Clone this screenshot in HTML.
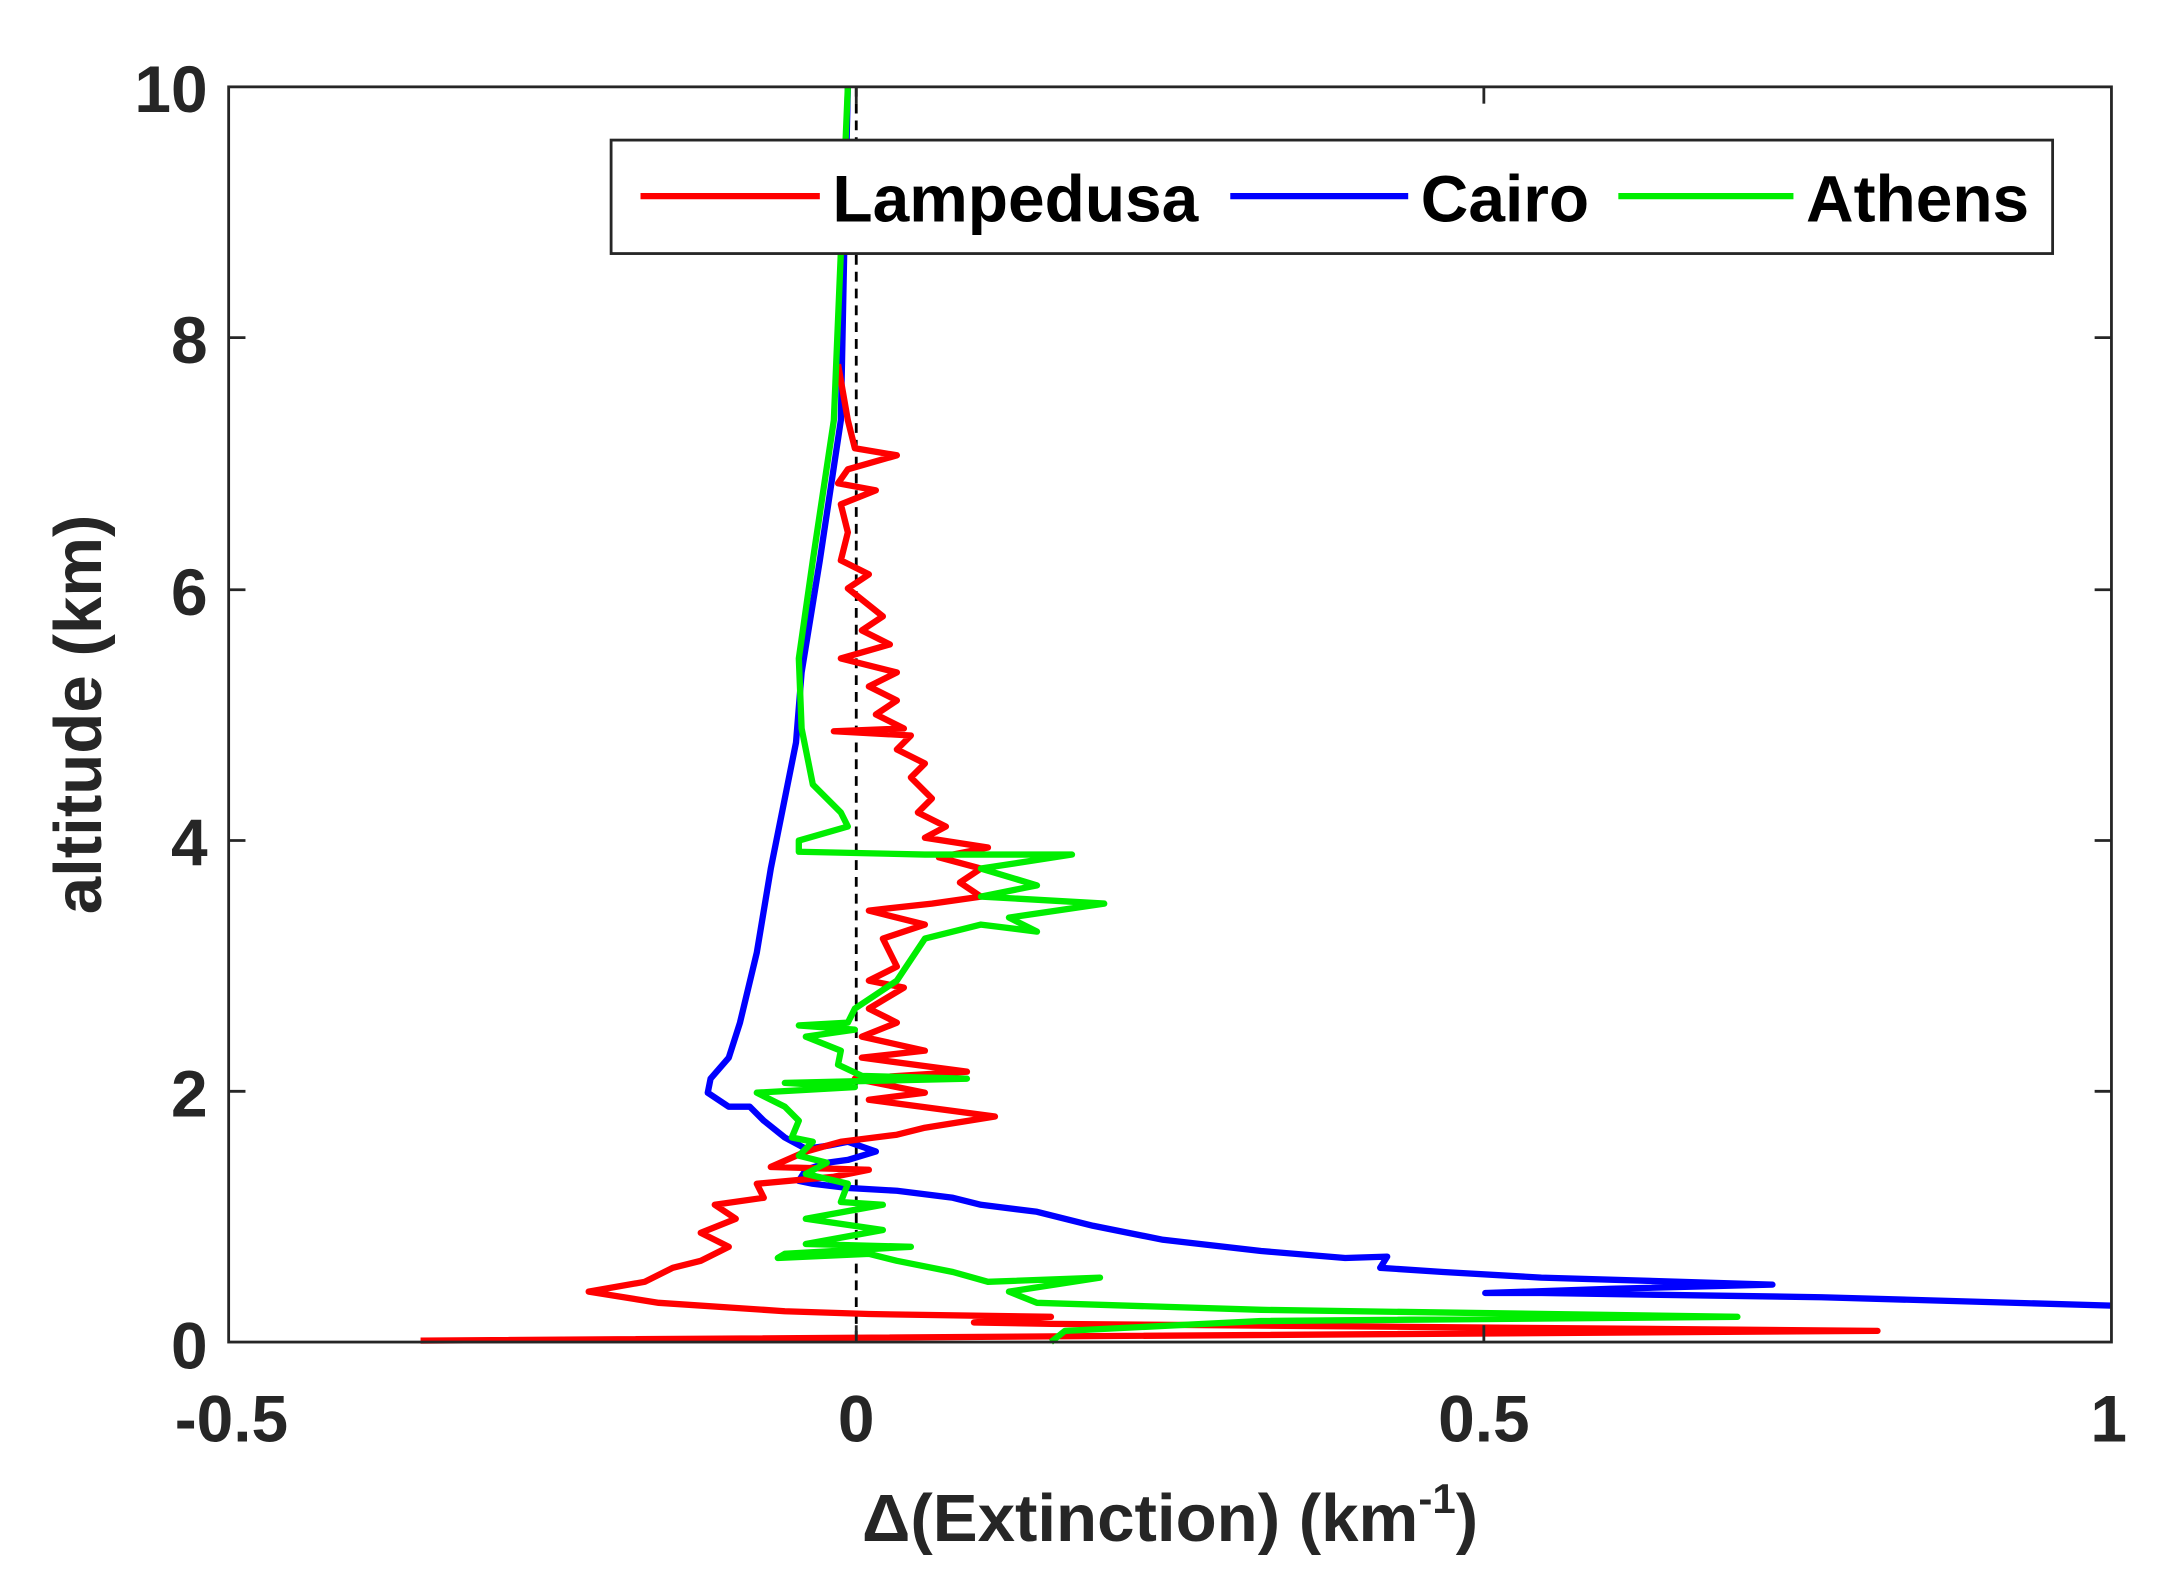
<!DOCTYPE html>
<html><head><meta charset="utf-8"><style>
html,body{margin:0;padding:0;background:#fff;}
svg{display:block;}
text{font-family:"Liberation Sans",Arial,sans-serif;font-weight:bold;fill:#262626;}
</style></head><body>
<svg width="2172" height="1576" viewBox="0 0 1550 1125" xmlns="http://www.w3.org/2000/svg">
<rect width="1550" height="1125" fill="#fff"/>
<line x1="611" y1="62" x2="611" y2="958" stroke="#000" stroke-width="2" stroke-dasharray="7,5"/>
<g fill="none" stroke-linejoin="round" stroke-width="4.5">
<polyline stroke="#0000ff" points="605,62 603,150 600,300 585,400 572,480 568,530 560,570 550,620 540,680 528,730 520,755 507,770 505,780 520,790 535,790 545,800 560,812 575,820 590,818 605,815 625,822 605,828 590,830 575,835 570,843 580,845 605,848 640,850 680,855 700,860 740,865 780,875 830,885 900,893 960,898 990,897 985,905 1030,908 1100,912 1265,917 1150,920 1060,923 1100,923 1300,926 1507,932"/>
<polyline stroke="#ff0000" points="598,260 605,300 610,320 640,325 605,335 598,345 625,350 600,360 605,380 600,400 620,410 605,420 630,440 615,450 635,460 600,470 640,480 620,490 640,500 625,510 645,520 595,522 650,525 640,535 660,545 650,555 665,570 655,580 675,590 660,598 705,605 670,612 700,620 685,630 700,640 665,645 620,650 660,660 630,670 640,690 620,700 645,705 620,720 640,730 615,740 660,750 615,755 690,765 610,770 660,780 620,785 710,797 660,805 640,810 600,815 575,822 550,833 620,835 595,840 540,845 545,855 510,860 525,870 500,880 520,890 500,900 480,905 460,915 420,922 470,930 560,936 620,938 750,940 695,944 750,945 1340,950 300,957"/>
<polyline stroke="#00ee00" points="605,62 600,180 595,300 580,400 570,470 572,520 580,560 590,570 600,580 605,590 570,600 570,608 660,610 765,610 700,620 740,632 700,640 788,645 720,655 740,665 700,660 660,670 650,685 640,700 625,710 610,720 605,730 570,732 610,735 575,740 600,750 598,760 615,768 690,770 560,773 610,776 540,780 560,790 570,800 565,812 580,815 570,825 590,830 575,838 605,845 600,858 630,860 575,870 630,878 575,888 650,890 560,895 555,898 620,895 640,900 680,908 705,915 785,912 720,922 740,930 900,935 1240,940 900,943 760,950 750,958"/>
</g>
<rect x="163" y="62" width="1344" height="896" fill="none" stroke="#262626" stroke-width="2"/>
<g stroke="#262626" stroke-width="2">
<line x1="611" y1="958" x2="611" y2="946"/><line x1="1059" y1="958" x2="1059" y2="946"/>
<line x1="611" y1="62" x2="611" y2="74"/><line x1="1059" y1="62" x2="1059" y2="74"/>
<line x1="163" y1="241" x2="175" y2="241"/><line x1="163" y1="421" x2="175" y2="421"/><line x1="163" y1="600" x2="175" y2="600"/><line x1="163" y1="779" x2="175" y2="779"/>
<line x1="1507" y1="241" x2="1495" y2="241"/><line x1="1507" y1="421" x2="1495" y2="421"/><line x1="1507" y1="600" x2="1495" y2="600"/><line x1="1507" y1="779" x2="1495" y2="779"/>
</g>
<g font-size="47" text-anchor="end">
<text x="148" y="80">10</text><text x="148" y="259">8</text><text x="148" y="439">6</text><text x="148" y="618">4</text><text x="148" y="797">2</text><text x="148" y="977">0</text>
</g>
<g font-size="47" text-anchor="middle">
<text x="165" y="1029">-0.5</text><text x="611" y="1029">0</text><text x="1059" y="1029">0.5</text><text x="1505" y="1029">1</text>
</g>
<text x="835" y="1100" font-size="48" text-anchor="middle">Δ(Extinction) (km<tspan font-size="30" dy="-20">-1</tspan><tspan dy="20">)</tspan></text>
<text transform="translate(72,510) rotate(-90)" font-size="48" text-anchor="middle">altitude (km)</text>
<rect x="436" y="100" width="1029" height="81" fill="#fff" stroke="#262626" stroke-width="2"/>
<line x1="457" y1="140" x2="585" y2="140" stroke="#ff0000" stroke-width="4.5"/>
<line x1="878" y1="140" x2="1005" y2="140" stroke="#0000ff" stroke-width="4.5"/>
<line x1="1155" y1="140" x2="1280" y2="140" stroke="#00ee00" stroke-width="4.5"/>
<g font-size="47">
<text x="594" y="158" style="fill:#000">Lampedusa</text>
<text x="1014" y="158" style="fill:#000">Cairo</text>
<text x="1289" y="158" style="fill:#000">Athens</text>
</g>
</svg>
</body></html>
